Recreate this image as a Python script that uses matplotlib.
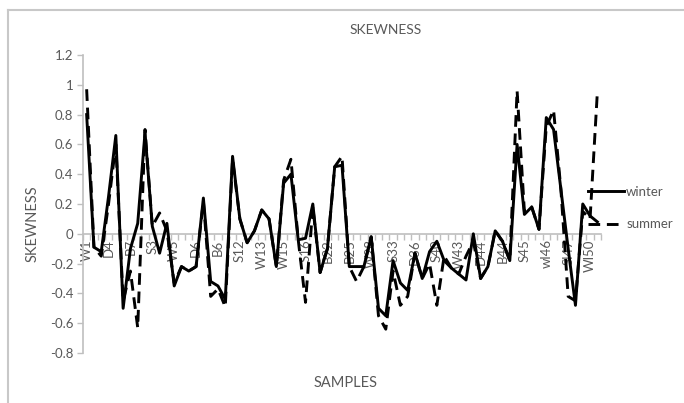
import numpy as np
import matplotlib
matplotlib.use("Agg")
from matplotlib import pyplot as plt
from matplotlib.ticker import FuncFormatter

plt.rcParams['font.family'] = ['Lato', 'DejaVu Sans']

# every third sample name is shown on the axis
shown_labels = ["W1", "D4", "B7", "S3", "W5", "D6", "B6", "S12", "W13", "W15", "S16", "B22",
                "B25", "W28", "S33", "D36", "S40", "W43", "D44", "B44", "S45", "wl46", "Sl47", "Wl50"]

winter = [0.80, -0.09, -0.12, 0.25, 0.66, -0.50, -0.10, 0.07, 0.68, 0.05,
          -0.13, 0.07, -0.35, -0.22, -0.25, -0.22, 0.24, -0.32, -0.35, -0.44,
          0.52, 0.10, -0.06, 0.02, 0.16, 0.10, -0.22, 0.34, 0.40, -0.04,
          -0.03, 0.20, -0.26, -0.10, 0.45, 0.46, -0.22, -0.22, -0.22, -0.02,
          -0.50, -0.55, -0.18, -0.33, -0.38, -0.13, -0.30, -0.12, -0.05, -0.18,
          -0.23, -0.27, -0.31, 0.00, -0.30, -0.22, 0.02, -0.05, -0.18, 0.60,
          0.13, 0.18, 0.03, 0.78, 0.70, 0.30, -0.10, -0.48, 0.20, 0.12,
          0.08]

summer = [0.97, -0.09, -0.15, 0.20, 0.60, -0.45, -0.25, -0.63, 0.70, 0.05,
          0.14, 0.02, -0.33, -0.22, -0.25, -0.22, 0.22, -0.42, -0.37, -0.49,
          0.50, 0.10, -0.06, 0.02, 0.16, 0.10, -0.22, 0.36, 0.50, -0.04,
          -0.46, 0.18, -0.26, -0.10, 0.45, 0.52, -0.22, -0.32, -0.22, -0.02,
          -0.55, -0.64, -0.25, -0.48, -0.42, -0.13, -0.30, -0.20, -0.48, -0.15,
          -0.23, -0.27, -0.15, -0.05, -0.30, -0.22, 0.02, -0.05, -0.18, 0.96,
          0.15, 0.18, 0.03, 0.72, 0.83, 0.30, -0.42, -0.45, 0.15, 0.10,
          0.95]

n = len(winter)
x = np.arange(n)
grey = '#bfbfbf'
txt = '#595959'


def fmt(v, pos):
    v = round(v, 1)
    if abs(v) < 1e-9:
        v = 0
    return '%g' % v


fig = plt.figure(figsize=(6.84, 4.03), dpi=100)
ax = fig.add_axes([83 / 684, 1 - 353 / 403, (601 - 83) / 684, (353 - 55) / 403])

ax.plot(x, winter, color='black', lw=2.1, zorder=3, label='winter')
ax.plot(x, summer, color='black', lw=2.1, ls=(0, (4, 2.3)), zorder=3, label='summer')

ax.set_xlim(-0.5, n - 0.5)
ax.set_ylim(-0.8, 1.2)
ax.set_yticks(np.arange(-0.8, 1.21, 0.2))
ax.yaxis.set_major_formatter(FuncFormatter(fmt))

ax.spines['top'].set_visible(False)
ax.spines['right'].set_visible(False)
ax.spines['bottom'].set_position(('data', 0))
for s in ['left', 'bottom']:
    ax.spines[s].set_color(grey)
    ax.spines[s].set_linewidth(1.2)

ax.set_xticks(np.arange(0, n, 3))
ax.set_xticklabels(shown_labels, rotation=90)
ax.set_xticks(np.arange(-0.5, n, 1), minor=True)
ax.tick_params(axis='x', which='major', length=0, pad=4, labelsize=9.5, labelcolor=txt)
ax.tick_params(axis='x', which='minor', length=4, width=1, color=grey, direction='out')
ax.tick_params(axis='y', length=4, width=1, color=grey, labelsize=9.5, labelcolor=txt, pad=3)
for lab in ax.get_xticklabels():
    lab.set_verticalalignment('top')

leg = ax.legend(loc='center left', bbox_to_anchor=(588 / 684, 1 - 208 / 403),
                bbox_transform=fig.transFigure, frameon=False, fontsize=9.5,
                handlelength=2.7, handletextpad=0.2, labelspacing=1.55,
                borderpad=0, borderaxespad=0)
for t in leg.get_texts():
    t.set_color(txt)

fig.text(386 / 684, 1 - 30 / 403, 'SKEWNESS', ha='center', va='center', fontsize=10, color=txt)
fig.text(33 / 684, 1 - 224 / 403, 'SKEWNESS', ha='center', va='center', rotation=90,
         fontsize=10.5, color=txt)
fig.text(346 / 684, 1 - 383 / 403, 'SAMPLES', ha='center', va='center', fontsize=10.5, color=txt)

# chart area border (left and top edges are visible)
fig.add_artist(plt.Line2D([8 / 684, 8 / 684], [0, 1 - 10 / 403], transform=fig.transFigure,
                          color='#c8c8c8', lw=1.5))
fig.add_artist(plt.Line2D([8 / 684, 1], [1 - 10 / 403, 1 - 10 / 403], transform=fig.transFigure,
                          color='#c8c8c8', lw=1.5))

fig.savefig('out.png', dpi=100)
